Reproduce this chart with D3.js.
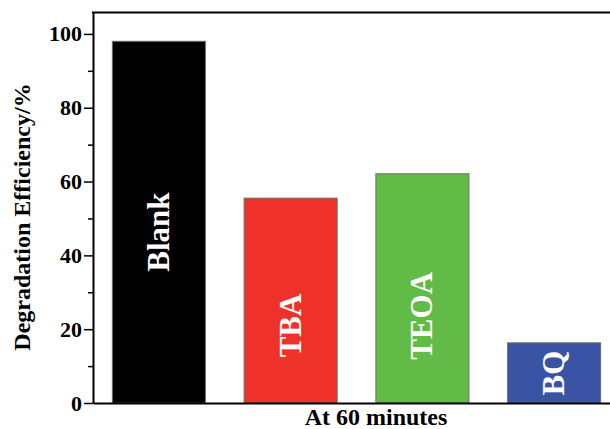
<!DOCTYPE html>
<html>
<head>
<meta charset="utf-8">
<script src="https://cdn.jsdelivr.net/npm/d3@7"></script>
<style>
  html, body { margin: 0; padding: 0; background: #fff; }
  svg { display: block; }
  text { font-family: "Liberation Serif", "Times New Roman", serif; font-weight: bold; }
</style>
</head>
<body>
<svg id="chart" width="610" height="429"></svg>
<script>
// ---- data ----
const categories = ["Blank", "TBA", "TEOA", "BQ"];
const values = [98, 55.5, 62.1, 16.3];
const colors = ["#000000", "#EE3229", "#62BB47", "#3A53A4"];
const yTicks = [0, 20, 40, 60, 80, 100];
const yMinorTicks = [10, 30, 50, 70, 90];
const xTitle = "At 60 minutes";
const yTitle = "Degradation Efficiency/%";

// ---- layout ----
const mLeft = 93, mTop = 12.5, mBottom = 403, mRight = 620;

const svg = d3.select("#chart");

const y = d3.scaleLinear().domain([0, 105.8]).range([mBottom, mTop]);
const x = d3.scaleBand().domain(categories).range([mLeft, mRight])
  .paddingInner(0.294).paddingOuter(0.147);

// bars
svg.append("g").selectAll("rect")
  .data(categories)
  .join("rect")
  .attr("x", d => x(d))
  .attr("width", x.bandwidth())
  .attr("y", (d, i) => y(values[i]))
  .attr("height", (d, i) => y(0) - y(values[i]))
  .attr("fill", (d, i) => colors[i])
  .attr("stroke", "#6b6b6b")
  .attr("stroke-width", 1);

// labels inside bars (vertical), anchor in data units
const labelAt = [46.3, 21, 23.6, 8.1];
svg.append("g").selectAll("text")
  .data(categories)
  .join("text")
  .attr("transform", (d, i) => `translate(${x(d) + x.bandwidth() / 2 + 10},${y(labelAt[i])}) rotate(-90)`)
  .attr("text-anchor", "middle")
  .attr("fill", "#fff")
  .attr("font-size", 31)
  .text(d => d);

// y axis (major ticks)
const yAxis = svg.append("g")
  .attr("transform", `translate(${mLeft},0)`)
  .call(d3.axisLeft(y).tickValues(yTicks).tickSize(9).tickSizeOuter(0).tickPadding(2));
yAxis.select(".domain").attr("stroke", "#000").attr("stroke-width", 2);
yAxis.selectAll(".tick line").attr("stroke", "#000").attr("stroke-width", 1.5);
yAxis.selectAll(".tick text")
  .attr("font-size", 22)
  .attr("font-family", "'Liberation Serif', 'Times New Roman', serif")
  .attr("font-weight", "bold")
  .attr("fill", "#000");

// minor ticks
const yMinor = svg.append("g")
  .attr("transform", `translate(${mLeft},0)`)
  .call(d3.axisLeft(y).tickValues(yMinorTicks).tickSize(5).tickFormat(""));
yMinor.select(".domain").remove();
yMinor.selectAll(".tick line").attr("stroke", "#000").attr("stroke-width", 1.5);

// x axis line (no ticks)
const xAxis = svg.append("g")
  .attr("transform", `translate(0,${mBottom})`)
  .call(d3.axisBottom(x).tickSize(0).tickSizeOuter(0).tickFormat(""));
xAxis.select(".domain").attr("stroke", "#000").attr("stroke-width", 2);

// top frame line
svg.append("line")
  .attr("x1", mLeft - 1).attr("x2", mRight)
  .attr("y1", mTop).attr("y2", mTop)
  .attr("stroke", "#000").attr("stroke-width", 2);

// titles
svg.append("text")
  .attr("x", 376).attr("y", 425)
  .attr("text-anchor", "middle")
  .attr("font-size", 24)
  .attr("fill", "#000")
  .text(xTitle);

svg.append("text")
  .attr("transform", `translate(30,217) rotate(-90)`)
  .attr("text-anchor", "middle")
  .attr("font-size", 24)
  .attr("fill", "#000")
  .text(yTitle);
</script>
</body>
</html>
